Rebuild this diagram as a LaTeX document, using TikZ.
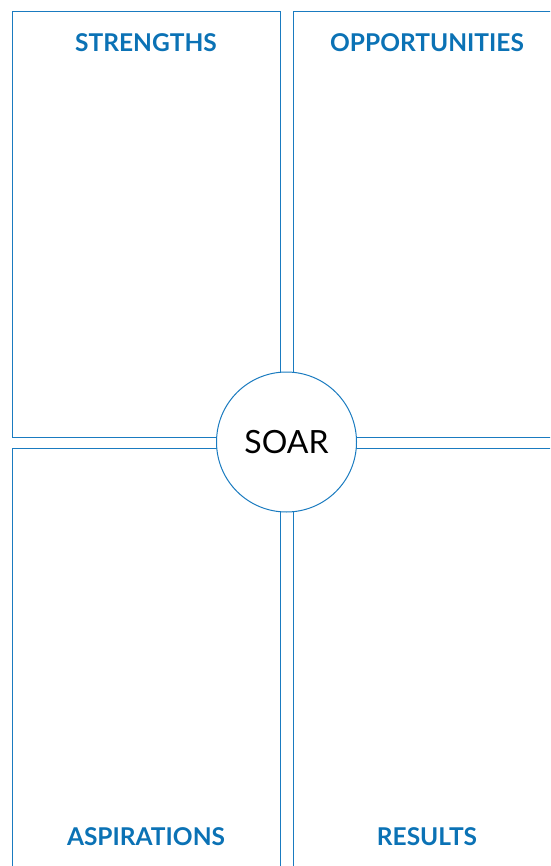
\documentclass[tikz,border=0pt]{standalone}
\usepackage{fontspec}
\setmainfont{Lato}
\usetikzlibrary{positioning}
\definecolor{cblue}{HTML}{1A7BC0}
\definecolor{ctext}{HTML}{0B72B5}
\tikzset{
  every picture/.style={line width=1pt},
  quad/.style={draw=cblue},
  head/.style={text=ctext, font=\fontsize{24.5}{28}\selectfont\bfseries},
  hub/.style={circle, draw=cblue, fill=white, minimum size=140pt, inner sep=0pt, font=\fontsize{32}{36}\selectfont},
}

\begin{document}
\begin{tikzpicture}[x=1pt, y=-1pt]
  \useasboundingbox (0,0) rectangle (550,866);
  \clip (0,0) rectangle (550,866);
  % four quadrants
  \draw[quad] (12,12) rectangle (280,437);
  \draw[quad] (293,12) rectangle (561,437);
  \draw[quad] (12,448) rectangle (280,880);
  \draw[quad] (293,448) rectangle (561,880);
  % headings
  \node[head] (str) at (146,43) {STRENGTHS};
  \node[head] (opp) at (427,43) {OPPORTUNITIES};
  \node[head] (asp) at (146,837) {ASPIRATIONS};
  \node[head] (res) at (427,837) {RESULTS};
  % centre
  \node[hub] (soar) at (286.5,442) {SOAR};
\end{tikzpicture}
\end{document}
